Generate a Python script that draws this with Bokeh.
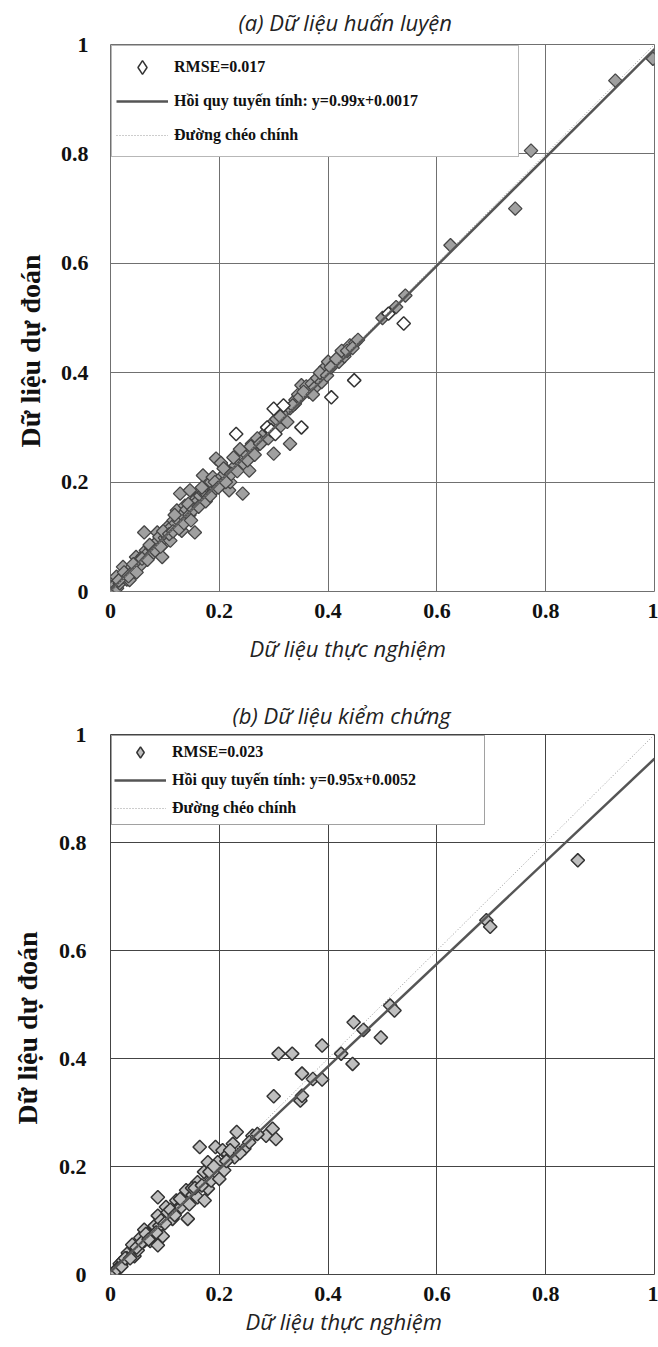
import math
from bokeh.plotting import figure
from bokeh.models import (Legend, LegendItem, Title, FixedTicker,
                          NumeralTickFormatter, Range1d)
from bokeh.layouts import column
from bokeh.embed import file_html
from bokeh.resources import INLINE

# ---------------- data ----------------
# (a) training data: filled markers
train_x = [0.002, 0.005, 0.008, 0.011, 0.012, 0.017, 0.020, 0.023, 0.028, 0.030,
           0.035, 0.035, 0.040, 0.045, 0.047, 0.050, 0.053, 0.055, 0.060, 0.062,
           0.065, 0.070, 0.075, 0.077, 0.080, 0.085, 0.086, 0.090, 0.095, 0.098,
           0.100, 0.104, 0.105, 0.110, 0.112, 0.116, 0.120, 0.122, 0.125, 0.128,
           0.131, 0.132, 0.137, 0.140, 0.140, 0.145, 0.146, 0.150, 0.155, 0.158,
           0.160, 0.165, 0.170, 0.172, 0.176, 0.180, 0.185, 0.188, 0.190, 0.194,
           0.200, 0.203, 0.206, 0.210, 0.215, 0.218, 0.220, 0.230, 0.235, 0.240,
           0.243, 0.245, 0.249, 0.255, 0.260, 0.261, 0.270, 0.280, 0.292, 0.300,
           0.300, 0.310, 0.317, 0.320, 0.330, 0.330, 0.339, 0.340, 0.345, 0.351,
           0.360, 0.365, 0.370, 0.376, 0.380, 0.388, 0.390, 0.395, 0.400, 0.410,
           0.420, 0.430, 0.440, 0.450, 0.455, 0.500, 0.525, 0.542, 0.625, 0.744,
           0.773, 0.928, 0.997,
           0.015, 0.025, 0.033, 0.042, 0.048, 0.058, 0.068, 0.072, 0.082, 0.092,
           0.097, 0.108, 0.115, 0.118, 0.126, 0.135, 0.143, 0.148, 0.153, 0.162,
           0.168, 0.175, 0.183, 0.192, 0.198, 0.208, 0.212, 0.222, 0.226, 0.233,
           0.238, 0.252, 0.258, 0.265, 0.275, 0.285, 0.290, 0.305, 0.312, 0.325,
           0.335, 0.348, 0.355, 0.372, 0.385, 0.398, 0.405, 0.415, 0.425, 0.435,
           0.445]
train_y = [0.009, 0.003, 0.012, 0.027, 0.006, 0.015, 0.025, 0.045, 0.030, 0.022,
           0.039, 0.021, 0.045, 0.040, 0.063, 0.055, 0.051, 0.048, 0.065, 0.108,
           0.075, 0.072, 0.080, 0.069, 0.085, 0.090, 0.108, 0.100, 0.063, 0.087,
           0.098, 0.117, 0.100, 0.093, 0.118, 0.130, 0.125, 0.148, 0.130, 0.179,
           0.111, 0.140, 0.157, 0.130, 0.150, 0.140, 0.185, 0.160, 0.108, 0.170,
           0.165, 0.175, 0.212, 0.180, 0.179, 0.190, 0.200, 0.209, 0.185, 0.243,
           0.205, 0.235, 0.198, 0.215, 0.220, 0.185, 0.200, 0.230, 0.240, 0.250,
           0.179, 0.234, 0.252, 0.221, 0.270, 0.258, 0.280, 0.275, 0.292, 0.252,
           0.310, 0.300, 0.328, 0.330, 0.270, 0.335, 0.343, 0.350, 0.360, 0.377,
           0.375, 0.365, 0.380, 0.373, 0.390, 0.383, 0.400, 0.410, 0.420, 0.415,
           0.420, 0.430, 0.450, 0.455, 0.460, 0.500, 0.520, 0.541, 0.633, 0.700,
           0.806, 0.934, 0.974,
           0.020, 0.035, 0.028, 0.050, 0.035, 0.060, 0.058, 0.085, 0.075, 0.082,
           0.110, 0.105, 0.110, 0.140, 0.115, 0.125, 0.160, 0.130, 0.150, 0.155,
           0.190, 0.165, 0.175, 0.200, 0.190, 0.225, 0.200, 0.215, 0.245, 0.220,
           0.260, 0.240, 0.265, 0.250, 0.270, 0.290, 0.280, 0.315, 0.320, 0.310,
           0.340, 0.355, 0.365, 0.360, 0.400, 0.395, 0.410, 0.425, 0.440, 0.440,
           0.445]
# (a) training data: open markers
train_open_x = [0.231, 0.288, 0.295, 0.300, 0.303, 0.318, 0.351, 0.406, 0.448, 0.511, 0.539]
train_open_y = [0.288, 0.300, 0.295, 0.334, 0.288, 0.340, 0.300, 0.355, 0.386, 0.508, 0.490]

# (b) validation data
valid_x = [0.008, 0.017, 0.023, 0.032, 0.044, 0.044, 0.055, 0.062, 0.062, 0.073,
           0.078, 0.081, 0.087, 0.087, 0.087, 0.090, 0.096, 0.102, 0.114, 0.121,
           0.124, 0.136, 0.139, 0.142, 0.151, 0.160, 0.160, 0.164, 0.172, 0.173,
           0.179, 0.179, 0.185, 0.193, 0.197, 0.200, 0.206, 0.209, 0.216, 0.225,
           0.228, 0.232, 0.246, 0.261, 0.286, 0.298, 0.304, 0.309, 0.334, 0.349,
           0.352, 0.352, 0.372, 0.389, 0.389, 0.424, 0.445, 0.447, 0.465, 0.497,
           0.514, 0.522, 0.691, 0.698, 0.859, 0.030, 0.050, 0.068, 0.105, 0.130,
           0.150, 0.300,
           0.012, 0.020, 0.027, 0.036, 0.040, 0.048, 0.058, 0.065, 0.070, 0.084,
           0.093, 0.100, 0.110, 0.118, 0.128, 0.145, 0.155, 0.168, 0.182, 0.190,
           0.213, 0.220, 0.238, 0.255, 0.270]
valid_y = [0.004, 0.020, 0.026, 0.040, 0.049, 0.034, 0.068, 0.083, 0.062, 0.062,
           0.071, 0.090, 0.143, 0.109, 0.054, 0.090, 0.071, 0.125, 0.103, 0.137,
           0.122, 0.137, 0.156, 0.103, 0.147, 0.171, 0.143, 0.236, 0.190, 0.137,
           0.208, 0.159, 0.174, 0.236, 0.208, 0.177, 0.230, 0.193, 0.223, 0.242,
           0.217, 0.264, 0.233, 0.257, 0.257, 0.270, 0.251, 0.409, 0.409, 0.322,
           0.372, 0.331, 0.362, 0.424, 0.361, 0.409, 0.390, 0.467, 0.453, 0.439,
           0.498, 0.489, 0.656, 0.644, 0.767, 0.030, 0.045, 0.075, 0.115, 0.125,
           0.160, 0.330,
           0.010, 0.015, 0.030, 0.030, 0.055, 0.050, 0.060, 0.075, 0.065, 0.078,
           0.100, 0.095, 0.120, 0.110, 0.140, 0.130, 0.160, 0.165, 0.190, 0.200,
           0.210, 0.230, 0.225, 0.245, 0.260]

rmse_a = 0.017
slope_a, icpt_a = 0.99, 0.0017
rmse_b = 0.023
slope_b, icpt_b = 0.95, 0.0052

ticks = [0, 0.2, 0.4, 0.6, 0.8, 1]

title_a = "(a) Dữ liệu huấn luyện"
title_b = "(b) Dữ liệu kiểm chứng"
xlab = "Dữ liệu thực nghiệm"
ylab = "Dữ liệu dự đoán"

SERIF = "Liberation Serif"
SANS = "Open Sans"


def make_plot(h, bl, br, bt, bb, grid_col, pts, open_pts, slope, icpt, rmse,
              fill, line_col, leg_fill, leg_label_w, leg_pad, leg_h, leg_sp, ystand,
              title, t_off, t_valign, t_stand,
              x_off, x_stand, y_off, y_stand):
    p = figure(width=658, height=h, output_backend="svg", toolbar_location=None,
               x_range=Range1d(0, 1), y_range=Range1d(0, 1),
               min_border_left=bl, min_border_right=br,
               min_border_top=bt, min_border_bottom=bb)
    p.outline_line_color = grid_col
    p.outline_line_width = 1
    for ax in (p.xaxis[0], p.yaxis[0]):
        ax.ticker = FixedTicker(ticks=ticks)
        ax.formatter = NumeralTickFormatter(format="0.[0]")
        ax.axis_line_color = None
        ax.major_tick_line_color = None
        ax.minor_tick_line_color = None
        ax.major_tick_out = 0
        ax.major_tick_in = 0
        ax.minor_tick_out = 0
        ax.minor_tick_in = 0
        ax.major_label_text_font = SERIF
        ax.major_label_text_font_style = "bold"
        ax.major_label_text_font_size = "22px"
        ax.major_label_text_color = "#111111"
    p.xaxis.major_label_standoff = 12
    p.yaxis.major_label_standoff = ystand
    p.yaxis.major_label_text_baseline = "alphabetic"
    for g in (p.xgrid[0], p.ygrid[0]):
        g.ticker = FixedTicker(ticks=ticks)
        g.grid_line_color = grid_col
        g.grid_line_width = 1

    # legend key (diamond), drawn tiny underneath the first data point
    key_src = open_pts if open_pts is not None else pts
    r_key = p.scatter(key_src[0][:1], key_src[1][:1], marker="diamond", size=1,
                      fill_color=leg_fill, line_color="#333333", line_width=1.5)
    if open_pts is not None:
        p.scatter(pts[0], pts[1], marker="square", angle=math.pi / 4, size=9.5,
                  fill_color=fill, line_color=line_col, line_width=1.3)
        p.scatter(open_pts[0], open_pts[1], marker="square", angle=math.pi / 4,
                  size=9.5, fill_color="white", line_color="#333333", line_width=1.5)
    else:
        p.scatter(pts[0], pts[1], marker="square", angle=math.pi / 4, size=9.5,
                  fill_color=fill, line_color=line_col, line_width=1.5)
    lx = [0, 1]
    r_reg = p.line(lx, [icpt + slope * v for v in lx], line_color="#555555", line_width=2.5)
    r_dia = p.line(lx, lx, line_color="#9a9a9a", line_width=1, line_dash="1 2")

    items = [LegendItem(label="RMSE=%.3f" % rmse, renderers=[r_key]),
             LegendItem(label="Hồi quy tuyến tính: y=%.2fx+%s" % (slope, ("%.4f" % icpt).rstrip("0")),
                        renderers=[r_reg]),
             LegendItem(label="Đường chéo chính", renderers=[r_dia])]
    leg = Legend(items=items, location="top_left", margin=1,
                 padding=leg_pad, spacing=leg_sp,
                 glyph_width=52, glyph_height=leg_h, label_height=leg_h,
                 label_width=leg_label_w, label_standoff=6,
                 label_text_font=SERIF, label_text_font_style="bold",
                 label_text_font_size="16px", label_text_color="#111111",
                 border_line_color=grid_col, border_line_width=1,
                 background_fill_color="white", background_fill_alpha=1)
    p.add_layout(leg)

    p.title = Title(text=title, align="left", offset=t_off, vertical_align=t_valign,
                    standoff=t_stand, text_font=SANS, text_font_style="italic",
                    text_font_size="22px", text_color="#222222")
    p.add_layout(Title(text=xlab, align="left", offset=x_off, vertical_align="top",
                       standoff=x_stand, text_font=SANS, text_font_style="italic",
                       text_font_size="22px", text_color="#222222"), "below")
    p.add_layout(Title(text=ylab, align="left", offset=y_off, vertical_align="top",
                       standoff=y_stand, text_font=SERIF, text_font_style="bold",
                       text_font_size="28px", text_color="#111111"), "left")
    return p


p1 = make_plot(685, 103, 3, 44, 94, "#707070", (train_x, train_y),
               (train_open_x, train_open_y), slope_a, icpt_a, rmse_a,
               "#a0a0a0", "#454545", "white", 340, 4, 34, 0, 22,
               title_a, 128, "top", 11,
               139, 25, 144, 20)
p2 = make_plot(662, 107, 4, 49, 73, "#444444", (valid_x, valid_y), None,
               slope_b, icpt_b, rmse_b,
               "#bfbfbf", "#333333", "#bfbfbf", 310, 2, 28, 0, 24,
               title_b, 122, "bottom", 10,
               135, 4, 150, 22)

layout = column(p1, p2, spacing=0)
open("out.html", "w").write(file_html(layout, INLINE))
